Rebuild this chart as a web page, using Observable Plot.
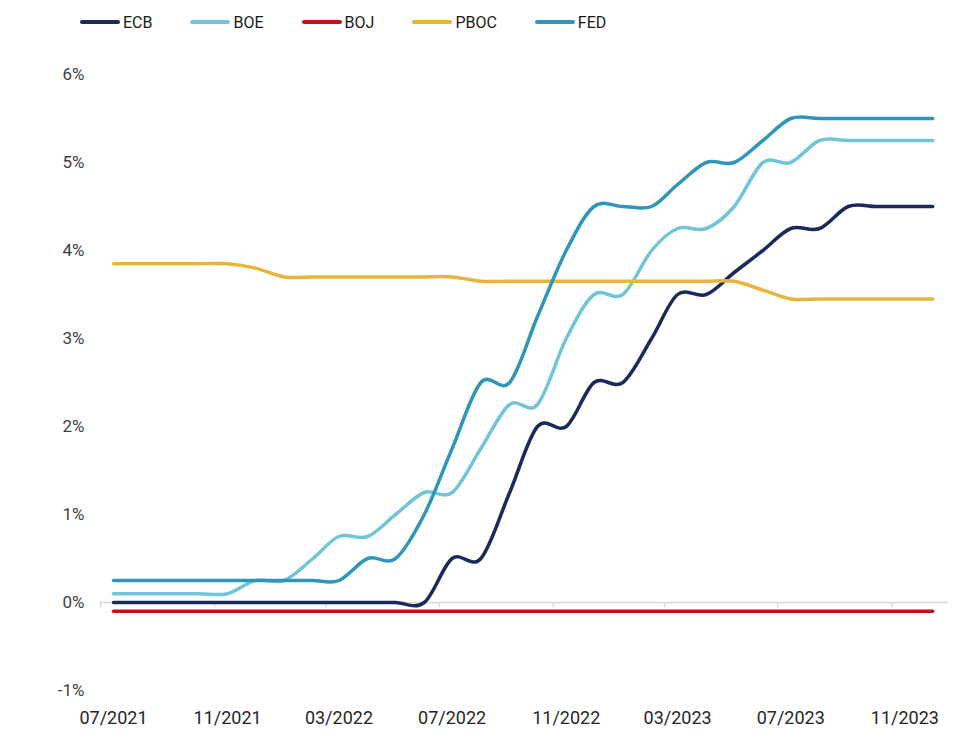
<!DOCTYPE html>
<html>
<head>
<meta charset="utf-8">
<script src="https://cdn.jsdelivr.net/npm/d3@7"></script>
<script src="https://cdn.jsdelivr.net/npm/@observablehq/plot@0.6"></script>
<style>
  body { margin: 0; background: #fff; font-family: Roboto, "Noto Sans", sans-serif; }
  #legend { height: 44px; display: flex; align-items: center; padding-left: 80px; box-sizing: border-box; }
  .item { display: flex; align-items: center; margin-right: 38px; font-size: 16px; color: #1a1a1a; }
  .swatch { width: 40px; height: 4px; border-radius: 2px; margin-right: 3px; }
</style>
</head>
<body>
<div id="legend"></div>
<div id="chart"></div>
<script>
// Months (one value per month)
const months = [
  "2021-07","2021-08","2021-09","2021-10","2021-11","2021-12",
  "2022-01","2022-02","2022-03","2022-04","2022-05","2022-06",
  "2022-07","2022-08","2022-09","2022-10","2022-11","2022-12",
  "2023-01","2023-02","2023-03","2023-04","2023-05","2023-06",
  "2023-07","2023-08","2023-09","2023-10","2023-11","2023-12"
];
// Policy rates, %
const ECB  = [0,0,0,0,0,0, 0,0,0,0,0,0, 0.5,0.5,1.25,2.0,2.0,2.5, 2.5,3.0,3.5,3.5,3.75,4.0, 4.25,4.25,4.5,4.5,4.5,4.5];
const BOE  = [0.1,0.1,0.1,0.1,0.1,0.25, 0.25,0.5,0.75,0.75,1.0,1.25, 1.25,1.75,2.25,2.25,3.0,3.5, 3.5,4.0,4.25,4.25,4.5,5.0, 5.0,5.25,5.25,5.25,5.25,5.25];
const BOJ  = [-0.1,-0.1,-0.1,-0.1,-0.1,-0.1, -0.1,-0.1,-0.1,-0.1,-0.1,-0.1, -0.1,-0.1,-0.1,-0.1,-0.1,-0.1, -0.1,-0.1,-0.1,-0.1,-0.1,-0.1, -0.1,-0.1,-0.1,-0.1,-0.1,-0.1];
const PBOC = [3.85,3.85,3.85,3.85,3.85,3.8, 3.7,3.7,3.7,3.7,3.7,3.7, 3.7,3.65,3.65,3.65,3.65,3.65, 3.65,3.65,3.65,3.65,3.65,3.55, 3.45,3.45,3.45,3.45,3.45,3.45];
const FED  = [0.25,0.25,0.25,0.25,0.25,0.25, 0.25,0.25,0.25,0.5,0.5,1.0, 1.75,2.5,2.5,3.25,4.0,4.5, 4.5,4.5,4.75,5.0,5.0,5.25, 5.5,5.5,5.5,5.5,5.5,5.5];

const seriesNames = ["ECB","BOE","BOJ","PBOC","FED"];
const seriesValues = [ECB, BOE, BOJ, PBOC, FED];
const seriesColors = ["#1b2a5a","#72c5d8","#c0121b","#e8b53b","#3096b9"];

const tickMonths = ["2021-07","2021-11","2022-03","2022-07","2022-11","2023-03","2023-07","2023-11"];
const yTicks = [-1,0,1,2,3,4,5,6];

const monthStart = s => new Date(Date.UTC(+s.slice(0,4), +s.slice(5,7)-1, 1));
const monthMid = s => new Date(Date.UTC(+s.slice(0,4), +s.slice(5,7)-1, 15));
const fmtMonth = d => String(d.getUTCMonth()+1).padStart(2,"0") + "/" + d.getUTCFullYear();

const table = [];
seriesNames.forEach((name, i) => {
  seriesValues[i].forEach((v, j) => table.push({series: name, date: monthMid(months[j]), value: v}));
});

// Legend
const legend = document.getElementById("legend");
seriesNames.forEach((name, i) => {
  const item = document.createElement("div");
  item.className = "item";
  const sw = document.createElement("div");
  sw.className = "swatch";
  sw.style.background = seriesColors[i];
  const lab = document.createElement("span");
  lab.textContent = name;
  item.appendChild(sw); item.appendChild(lab);
  legend.appendChild(item);
});

const xDomain = [monthStart(months[0]), d3.utcMonth.offset(monthStart(months[months.length-1]), 1)];

const chart = Plot.plot({
  width: 964,
  height: 699,
  marginTop: 30,
  marginBottom: 53,
  marginLeft: 100,
  marginRight: 16,
  style: {fontFamily: "Roboto, sans-serif", fontSize: "17px", color: "#404040", background: "#fff"},
  x: {type: "utc", domain: xDomain},
  y: {domain: [-1, 6]},
  color: {domain: seriesNames, range: seriesColors},
  marks: [
    Plot.ruleY([0], {stroke: "#d9d9d9", strokeWidth: 1.5}),
    Plot.ruleX(tickMonths.map(monthStart), {x: d => d, y1: 0, y2: -0.06, stroke: "#d9d9d9", strokeWidth: 1.5}),
    Plot.axisY({ticks: yTicks, tickSize: 0, tickPadding: 16, fontSize: 17,
      tickFormat: d => (d < 0 ? "-" : "") + Math.abs(d) + "%", label: null}),
    Plot.axisX({ticks: tickMonths.map(monthMid), tickSize: 0, tickPadding: 21, fontSize: 18,
      tickFormat: fmtMonth, label: null, fill: "#262626"}),
    Plot.line(table, {x: "date", y: "value", z: "series", stroke: "series",
      strokeWidth: 3.5, curve: "cardinal", strokeLinecap: "round", strokeLinejoin: "round"})
  ]
});
document.getElementById("chart").appendChild(chart);
</script>
</body>
</html>
